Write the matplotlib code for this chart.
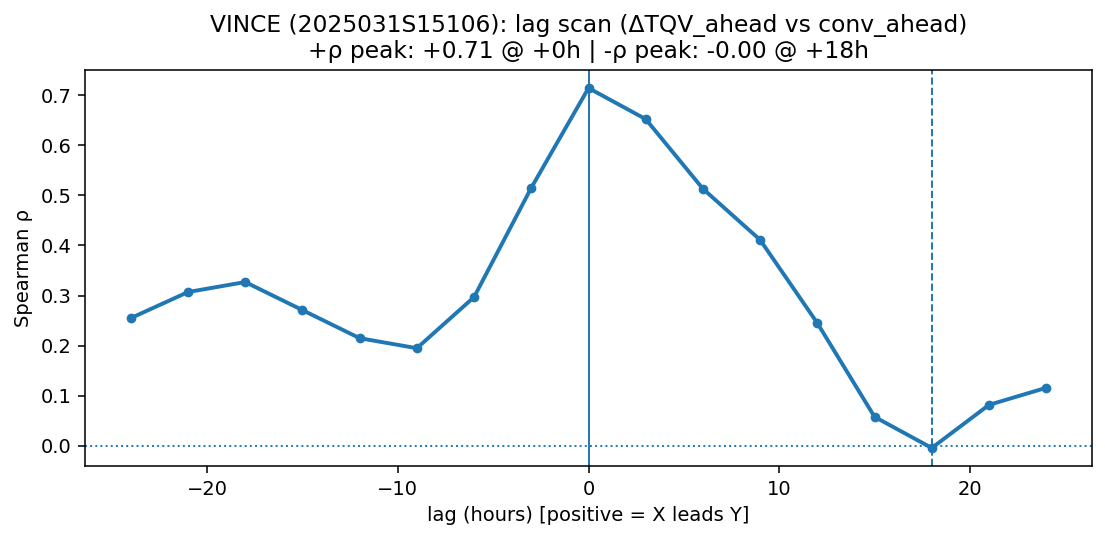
import matplotlib
matplotlib.use("Agg")
import matplotlib.pyplot as plt

lags = [-24, -21, -18, -15, -12, -9, -6, -3, 0, 3, 6, 9, 12, 15, 18, 21, 24]
rho = [0.255, 0.307, 0.327, 0.271, 0.215, 0.195, 0.297, 0.515, 0.714, 0.652,
       0.513, 0.411, 0.245, 0.058, -0.004, 0.082, 0.116]
pos_peak_lag = 0
neg_peak_lag = 18

DPI = 140
fig = plt.figure(figsize=(1105/DPI, 540/DPI), dpi=DPI)
ax = fig.add_axes([85/1105, 1-466/540, (1092-85)/1105, (466-70)/540])
ax.plot(lags, rho, marker='o', lw=2, ms=4, color='C0')
ax.axhline(0, ls=':', lw=1, color='C0')
ax.axvline(pos_peak_lag, ls='-', lw=1, color='C0')
ax.axvline(neg_peak_lag, ls='--', lw=1, color='C0')
ax.set_ylim(-0.04, 0.75)
ax.set_xlabel("lag (hours) [positive = X leads Y]")
ax.set_ylabel("Spearman ρ")
ax.set_title("VINCE (2025031S15106): lag scan (ΔTQV_ahead vs conv_ahead)\n"
             "+ρ peak: +0.71 @ +0h | -ρ peak: -0.00 @ +18h")
fig.savefig("out.png", dpi=DPI)
